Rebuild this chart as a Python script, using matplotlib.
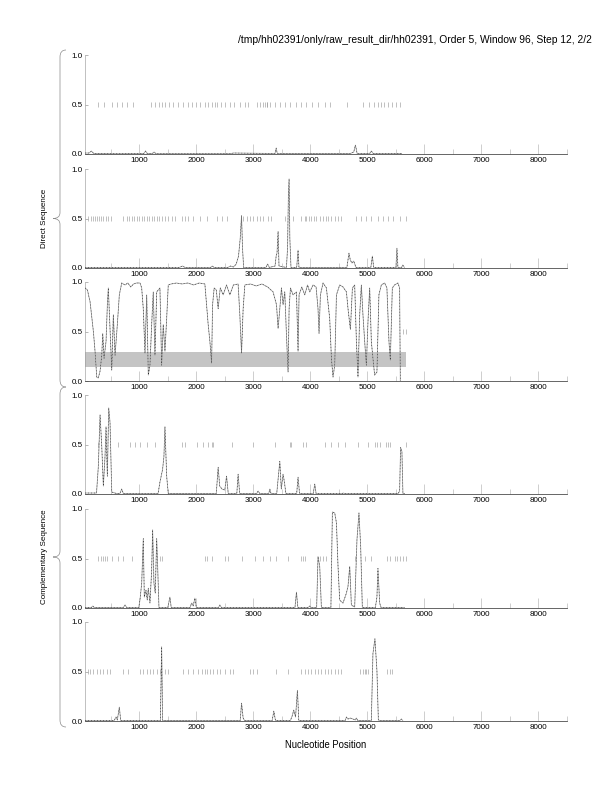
import matplotlib.pyplot as plt
from matplotlib.path import Path
from matplotlib.patches import PathPatch

plt.rcParams['font.family'] = ['Liberation Sans', 'DejaVu Sans']

title = "/tmp/hh02391/only/raw_result_dir/hh02391, Order 5, Window 96, Step 12, 2/2"
x_start = 48
x_end = 8500

# coding potential curves, (position, probability)
direct1 = [(48, 0.01), (120, 0.01), (160, 0.03), (200, 0.005), (600, 0.003), (1080, 0.005),
           (1110, 0.03), (1140, 0.005), (1230, 0.005), (1260, 0.02), (1290, 0.003), (2600, 0.003),
           (2650, 0.01), (3380, 0.005), (3400, 0.06), (3420, 0.005), (4700, 0.005), (4760, 0.02),
           (4790, 0.09), (4820, 0.005), (5040, 0.005), (5070, 0.03), (5100, 0.005), (5600, 0.005)]

direct2 = [(48, 0.005), (1700, 0.005), (1760, 0.02), (1800, 0.005), (2250, 0.005), (2280, 0.02),
           (2310, 0.005), (2550, 0.005), (2600, 0.02), (2650, 0.01), (2700, 0.04), (2740, 0.12),
           (2770, 0.3), (2793, 0.53), (2810, 0.2), (2830, 0.005), (3220, 0.005), (3250, 0.04),
           (3280, 0.005), (3380, 0.02), (3400, 0.12), (3415, 0.15), (3434, 0.37), (3450, 0.02),
           (3580, 0.005), (3600, 0.2), (3615, 0.75), (3627, 0.9), (3640, 0.3), (3660, 0.005),
           (3760, 0.005), (3784, 0.18), (3800, 0.005), (4640, 0.005), (4677, 0.15), (4700, 0.08),
           (4730, 0.05), (4760, 0.07), (4800, 0.005), (5060, 0.005), (5087, 0.12), (5110, 0.005),
           (5500, 0.005), (5518, 0.2), (5535, 0.005), (5600, 0.005), (5620, 0.03), (5650, 0.005)]

noncoding = [(48, 0.94), (90, 0.92), (137, 0.8), (195, 0.5), (224, 0.3), (254, 0.04), (280, 0.03),
             (312, 0.1), (342, 0.26), (359, 0.48), (382, 0.23), (417, 0.4), (440, 0.77), (457, 0.94),
             (487, 0.53), (517, 0.11), (545, 0.67), (575, 0.26), (615, 0.57), (650, 0.87), (692, 0.99),
             (750, 0.97), (800, 0.99), (850, 0.95), (900, 0.98), (950, 0.99), (1012, 0.99), (1042, 0.94),
             (1070, 0.73), (1100, 0.28), (1130, 0.87), (1158, 0.06), (1187, 0.16), (1217, 0.57),
             (1245, 0.9), (1275, 0.26), (1305, 0.9), (1335, 0.92), (1362, 0.94), (1392, 0.16),
             (1420, 0.57), (1450, 0.3), (1480, 0.63), (1508, 0.97), (1560, 0.98), (1650, 0.99),
             (1750, 0.98), (1850, 0.99), (1950, 0.97), (2050, 0.99), (2150, 0.98), (2208, 0.57),
             (2238, 0.4), (2268, 0.18), (2285, 0.77), (2313, 0.94), (2350, 0.92), (2383, 0.73),
             (2420, 0.94), (2471, 0.87), (2530, 0.97), (2588, 0.87), (2650, 0.97), (2733, 0.98),
             (2763, 0.67), (2793, 0.28), (2821, 0.73), (2851, 0.97), (2950, 0.98), (3050, 0.96),
             (3150, 0.98), (3250, 0.95), (3346, 0.9), (3406, 0.77), (3434, 0.53), (3464, 0.73),
             (3493, 0.94), (3521, 0.77), (3551, 0.9), (3581, 0.46), (3609, 0.09), (3627, 0.73),
             (3651, 0.94), (3697, 0.87), (3756, 0.9), (3784, 0.3), (3802, 0.87), (3850, 0.95),
             (3902, 0.87), (3950, 0.97), (3989, 0.9), (4047, 0.97), (4100, 0.95), (4134, 0.73),
             (4152, 0.48), (4176, 0.87), (4222, 0.99), (4281, 0.94), (4339, 0.63), (4369, 0.23),
             (4397, 0.04), (4427, 0.16), (4457, 0.87), (4514, 0.97), (4572, 0.95), (4632, 0.9),
             (4660, 0.73), (4702, 0.52), (4737, 0.94), (4777, 0.97), (4807, 0.4), (4835, 0.04),
             (4865, 0.67), (4894, 0.97), (4922, 0.67), (4952, 0.4), (4982, 0.16), (5010, 0.6),
             (5040, 0.94), (5069, 0.4), (5097, 0.23), (5127, 0.06), (5167, 0.09), (5202, 0.87),
             (5244, 0.97), (5302, 0.99), (5342, 0.94), (5378, 0.4), (5402, 0.21), (5437, 0.94),
             (5477, 0.97), (5535, 0.99), (5565, 0.94), (5577, 0.0)]

comp1 = [(48, 0.01), (250, 0.01), (282, 0.28), (312, 0.8), (342, 0.48), (370, 0.08), (399, 0.38),
         (417, 0.68), (440, 0.18), (464, 0.87), (487, 0.72), (517, 0.02), (600, 0.005), (660, 0.005),
         (692, 0.05), (720, 0.005), (1330, 0.005), (1362, 0.12), (1409, 0.25), (1432, 0.38),
         (1450, 0.68), (1480, 0.18), (1508, 0.005), (2350, 0.005), (2383, 0.27), (2410, 0.08),
         (2450, 0.05), (2500, 0.04), (2530, 0.18), (2560, 0.005), (2710, 0.005), (2733, 0.2),
         (2760, 0.005), (3060, 0.005), (3084, 0.03), (3110, 0.005), (3270, 0.005), (3289, 0.05),
         (3310, 0.005), (3410, 0.005), (3434, 0.15), (3464, 0.33), (3490, 0.05), (3521, 0.2),
         (3545, 0.12), (3570, 0.005), (3760, 0.005), (3784, 0.17), (3810, 0.005), (4050, 0.005),
         (4077, 0.1), (4100, 0.005), (4560, 0.005), (4577, 0.01), (4600, 0.005), (5540, 0.005),
         (5565, 0.03), (5582, 0.47), (5605, 0.43), (5623, 0.005), (5650, 0.005)]

comp2 = [(48, 0.005), (160, 0.005), (185, 0.02), (210, 0.005), (720, 0.005), (750, 0.03),
         (780, 0.005), (990, 0.005), (1012, 0.08), (1042, 0.25), (1070, 0.7), (1088, 0.11),
         (1117, 0.18), (1140, 0.08), (1158, 0.2), (1187, 0.05), (1217, 0.38), (1234, 0.79),
         (1257, 0.25), (1280, 0.15), (1305, 0.7), (1322, 0.42), (1345, 0.005), (1500, 0.005),
         (1537, 0.11), (1560, 0.005), (1890, 0.005), (1918, 0.05), (1945, 0.02), (1975, 0.1),
         (2000, 0.005), (2390, 0.005), (2413, 0.03), (2440, 0.005), (3730, 0.005), (3756, 0.16),
         (3780, 0.005), (3960, 0.005), (3989, 0.02), (4010, 0.005), (4110, 0.005), (4134, 0.52),
         (4164, 0.42), (4193, 0.005), (4360, 0.005), (4386, 0.97), (4427, 0.96), (4457, 0.86),
         (4485, 0.42), (4514, 0.08), (4572, 0.05), (4632, 0.15), (4660, 0.22), (4690, 0.42),
         (4719, 0.03), (4777, 0.01), (4817, 0.69), (4852, 0.96), (4882, 0.62), (4911, 0.005),
         (5140, 0.005), (5167, 0.11), (5185, 0.4), (5215, 0.05), (5240, 0.005), (5650, 0.005)]

comp3 = [(48, 0.005), (560, 0.005), (592, 0.04), (615, 0.01), (650, 0.14), (674, 0.005),
         (1370, 0.005), (1392, 0.75), (1409, 0.005), (2770, 0.005), (2793, 0.18), (2821, 0.03),
         (2845, 0.005), (3330, 0.005), (3359, 0.1), (3388, 0.005), (3650, 0.005), (3680, 0.05),
         (3709, 0.11), (3740, 0.04), (3773, 0.31), (3797, 0.005), (4610, 0.005), (4632, 0.04),
         (4660, 0.02), (4700, 0.03), (4747, 0.02), (4790, 0.01), (4807, 0.03), (4830, 0.005),
         (5069, 0.005), (5097, 0.68), (5132, 0.83), (5167, 0.51), (5192, 0.01), (5220, 0.005),
         (5570, 0.005), (5595, 0.02), (5620, 0.005)]

# stop codon marks at the 0.5 level
stops1 = [282, 382, 517, 615, 692, 779, 895, 1200, 1275, 1345, 1392, 1450, 1525, 1595, 1683, 1770,
          1858, 1918, 1988, 2063, 2150, 2208, 2268, 2325, 2366, 2425, 2500, 2588, 2658, 2763, 2850,
          2909, 3056, 3113, 3171, 3201, 3231, 3248, 3289, 3376, 3464, 3551, 3639, 3756, 3844, 3931,
          4036, 4134, 4252, 4339, 4637, 4917, 5022, 5110, 5180, 5232, 5285, 5355, 5425, 5495, 5565]
stops2 = [107, 149, 184, 224, 254, 294, 324, 370, 417, 457, 499, 720, 779, 825, 867, 907, 954,
          1000, 1042, 1088, 1130, 1175, 1217, 1263, 1305, 1350, 1392, 1450, 1508, 1567, 1625, 1742,
          1800, 1858, 1946, 2063, 2180, 2355, 2443, 2530, 2821, 2881, 2938, 2996, 3056, 3113, 3171,
          3259, 3318, 3551, 3627, 3697, 3844, 3900, 3931, 3975, 4019, 4060, 4106, 4164, 4222, 4281,
          4309, 4369, 4427, 4485, 4544, 4807, 4894, 4982, 5069, 5185, 5272, 5360, 5448, 5565, 5682]
stops3 = [5617, 5670]
stops4 = [282, 632, 837, 925, 1012, 1130, 1275, 1742, 1800, 2005, 2121, 2208, 2268, 2296, 2618,
          2996, 3376, 3639, 3669, 3872, 3931, 4252, 4369, 4485, 4602, 4835, 5010, 5127, 5167, 5215,
          5320, 5360, 5402, 5670]
stops5 = [282, 324, 359, 399, 440, 517, 632, 720, 867, 1362, 1392, 2150, 2180, 2268, 2501, 2558,
          2793, 3026, 3171, 3289, 3406, 3609, 3844, 3872, 3902, 4164, 4222, 4281, 4777, 4952, 5069,
          5342, 5390, 5477, 5518, 5565, 5623, 5670]
stops6 = [107, 137, 195, 254, 312, 370, 429, 487, 720, 807, 1012, 1070, 1130, 1187, 1245, 1305,
          1362, 1450, 1508, 1770, 1858, 1946, 2033, 2093, 2150, 2180, 2238, 2296, 2355, 2413, 2501,
          2588, 2646, 2938, 2996, 3056, 3406, 3609, 3844, 3902, 3960, 4019, 4077, 4134, 4193, 4252,
          4309, 4369, 4427, 4485, 4544, 4865, 4922, 4952, 4982, 5010, 5342, 5390, 5437]

# gray threshold band on the non-coding panel
band_x = [48, 5670]
band_lo = 0.145
band_hi = 0.29

curves = [direct1, direct2, noncoding, comp1, comp2, comp3]
stops = [stops1, stops2, stops3, stops4, stops5, stops6]

W, H = 612, 792
fig = plt.figure(figsize=(W / 72, H / 72), dpi=72)

tops = [55, 169, 282, 395, 509, 622]
left, width, height = 85, 482, 99

for i, top in enumerate(tops):
    ax = fig.add_axes([left / W, 1 - (top + height) / H, width / W, height / H])
    xs = [p[0] for p in curves[i]]
    ys = [p[1] for p in curves[i]]
    if i == 2:
        ax.fill_between(band_x, band_lo, band_hi, color='#c4c4c4', lw=0, zorder=1)
    ax.plot(xs, ys, color='#9a9a9a', lw=0.8, zorder=2)
    ax.plot(xs, ys, color='#222222', lw=0.5, dashes=(2, 4), zorder=3)
    ax.vlines(stops[i], 0.475, 0.525, color='#999999', lw=0.6, zorder=2)

    ax.set_xlim(x_start, x_end)
    ax.set_ylim(0, 1)
    ax.set_xticks(range(1000, 9000, 1000))
    ax.set_xticks(range(500, 9000, 1000), minor=True)
    ax.set_yticks([0, 0.5, 1.0])
    ax.set_yticklabels(['0.0', '0.5', '1.0'])
    ax.tick_params(axis='x', which='major', direction='in', length=10, width=0.6,
                   color='#b0b0b0', labelsize=8, pad=3)
    ax.tick_params(axis='x', which='minor', direction='in', length=5, width=0.6, color='#b0b0b0')
    ax.tick_params(axis='y', direction='in', length=3, width=0.6, color='#888888',
                   labelsize=8, pad=2)
    for s in ['top', 'right']:
        ax.spines[s].set_visible(False)
    ax.spines['bottom'].set_color('#444444')
    ax.spines['bottom'].set_linewidth(0.8)
    ax.spines['left'].set_color('#999999')
    ax.spines['left'].set_linewidth(0.6)
    ax.patch.set_alpha(0)

# overlay in pixel coordinates for the braces and labels
ov = fig.add_axes([0, 0, 1, 1], zorder=-1)
ov.set_xlim(0, W)
ov.set_ylim(H, 0)
ov.axis('off')


def brace(x, y0, y1):
    ym = (y0 + y1) / 2
    verts = [(x + 6, y0), (x, y0), (x, y0 + 7),
             (x, ym - 6),
             (x, ym), (x - 7, ym),
             (x, ym), (x, ym + 6),
             (x, y1 - 7),
             (x, y1), (x + 6, y1)]
    codes = [Path.MOVETO, Path.CURVE3, Path.CURVE3,
             Path.LINETO,
             Path.CURVE3, Path.CURVE3,
             Path.CURVE3, Path.CURVE3,
             Path.LINETO,
             Path.CURVE3, Path.CURVE3]
    ov.add_patch(PathPatch(Path(verts, codes), fill=False, edgecolor='#8a8a8a', lw=0.7))


brace(60, 50, 387)
brace(60, 387, 727)
ov.text(45, 218, 'Direct Sequence', rotation=90, ha='center', va='center', fontsize=8)
ov.text(45, 557, 'Complementary Sequence', rotation=90, ha='center', va='center', fontsize=8)

fig.text(592 / W, 1 - 40 / H, title, ha='right', va='center', fontsize=10.3)
fig.text(326 / W, 1 - 745 / H, 'Nucleotide Position', ha='center', va='center', fontsize=9.5)

fig.savefig('out.png', dpi=72)
